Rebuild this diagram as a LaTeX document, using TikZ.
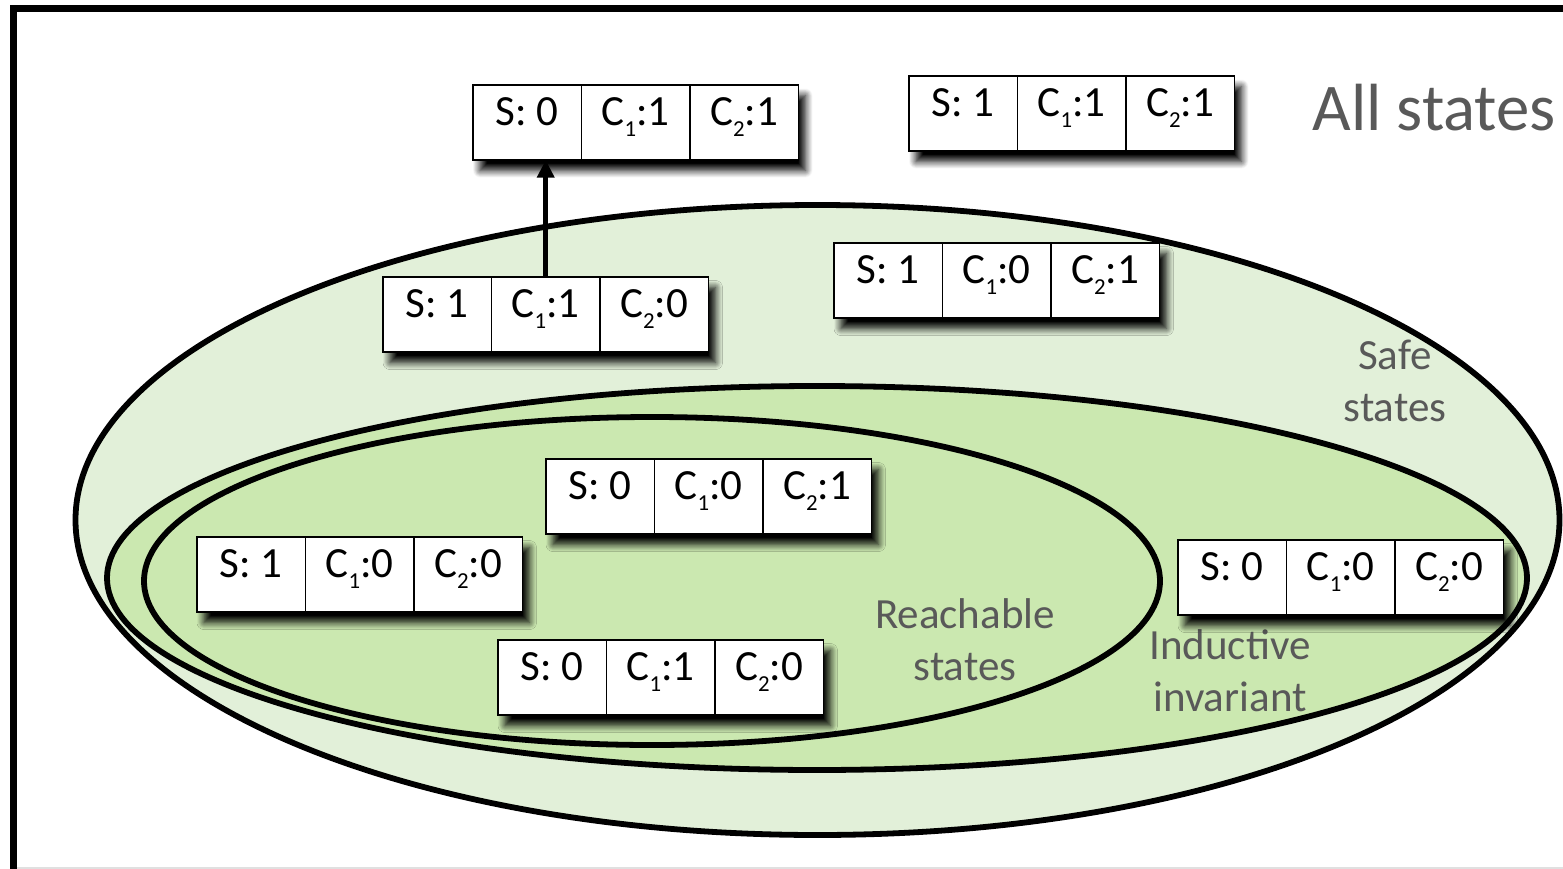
\documentclass[tikz,border=0pt]{standalone}
\usepackage{fontspec}
\setmainfont{Carlito}
\usetikzlibrary{positioning}
\usetikzlibrary{arrows.meta}
\usetikzlibrary{shadows.blur}

\definecolor{safefill}{HTML}{E2F0D9}
\definecolor{invfill}{HTML}{CBE8B0}
\definecolor{labelgray}{HTML}{595959}

\tikzset{
  cell/.style={draw, line width=1pt, fill=white, inner sep=0pt, outer sep=0pt,
    minimum width=2.17cm, minimum height=1.5cm, text height=0.82cm, text depth=0.68cm,
    font=\fontsize{24.5}{29}\selectfont},
  statebg/.style={fill=white, inner sep=0pt, outer sep=0pt,
    minimum width=6.51cm, minimum height=1.5cm,
    blur shadow={shadow xshift=4pt, shadow yshift=-6pt, shadow blur radius=4pt,
      shadow blur steps=10, shadow opacity=100}},
  region/.style={draw, line width=3.3pt},
  setlabel/.style={text=labelgray, align=center, font=\fontsize{24.5}{29.5}\selectfont},
}

\newcommand{\csub}[1]{\raisebox{-6pt}{\fontsize{13}{13}\selectfont #1}}

% one state: name, top left corner, S, C1, C2
\newcommand{\statebox}[5]{%
  \node[statebg, anchor=north west] (#1) at (#2) {};
  \node[cell, anchor=north west] (#1s) at (#1.north west) {S: #3};
  \node[cell, right=0pt of #1s] (#1a) {C\csub{1}:#4};
  \node[cell, right=0pt of #1a] (#1b) {C\csub{2}:#5};
}

\begin{document}
\begin{tikzpicture}[x=0.02cm, y=-0.02cm]
  \useasboundingbox (0,0) rectangle (1563,869);
  \draw[line width=4pt] (13.5,880) -- (13.5,8.5) -- (1580,8.5);
  \draw[black!12, line width=1pt] (17,868) -- (1563,868);

  % sets
  \draw[region, fill=safefill] (817.5,520) ellipse [x radius=742, y radius=315];
  \draw[region, fill=invfill] (817,578) ellipse [x radius=710, y radius=192];
  \draw[region, fill=invfill] (652,581) ellipse [x radius=508, y radius=164];

  \node[setlabel, anchor=base west, inner sep=0pt, font=\fontsize{38}{40}\selectfont] (allstates) at (1312,130) {All states};
  \node[setlabel] (safe) at (1395,381) {Safe\\states};
  \node[setlabel] (reach) at (965,640) {Reachable\\states};
  \node[setlabel] (inductive) at (1230,671) {Inductive\\invariant};

  % states
  \statebox{s011}{473,85}{0}{1}{1}
  \statebox{s111}{909,76}{1}{1}{1}
  \statebox{s110}{383,277}{1}{1}{0}
  \statebox{s101}{834,243}{1}{0}{1}
  \statebox{s001}{546,459}{0}{0}{1}
  \statebox{s100}{197,537}{1}{0}{0}
  \statebox{s010}{498,640}{0}{1}{0}
  \statebox{s000}{1178,540}{0}{0}{0}

  \draw[line width=3pt, -{Triangle[length=10pt,width=9.5pt]}] (s110a.north) -- (s110a.north |- s011s.south);
\end{tikzpicture}
\end{document}
